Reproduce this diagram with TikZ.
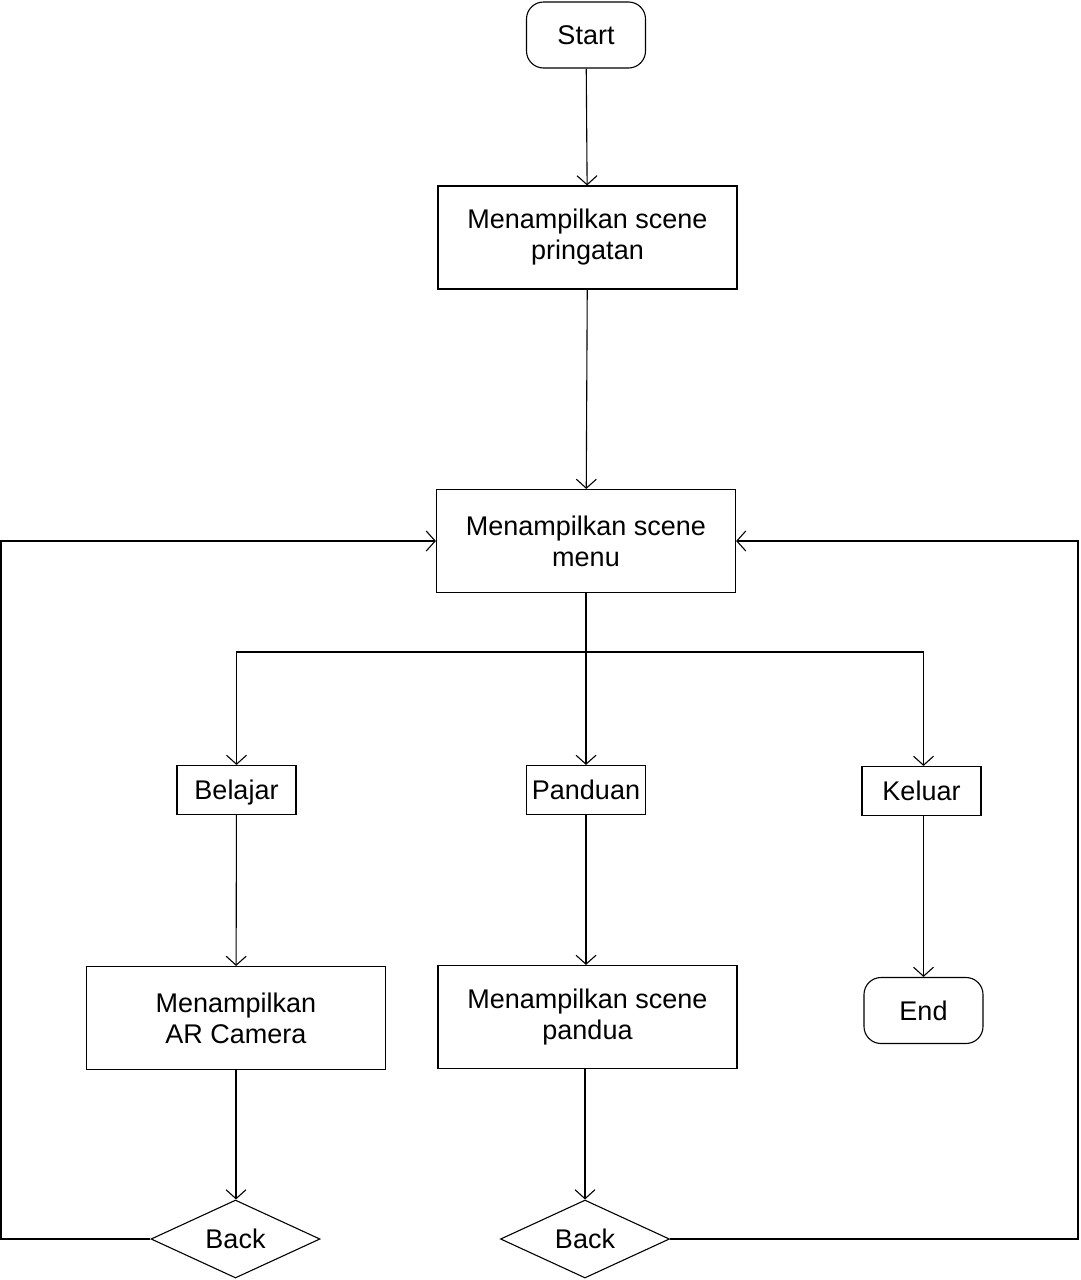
\documentclass[tikz,border=0pt]{standalone}
\usepackage{fontspec}
\setmainfont{Liberation Sans}
\usetikzlibrary{arrows.meta,shapes.geometric}
\begin{document}
\begin{tikzpicture}[x=1pt,y=-1pt,
  line width=1.1pt,
  font=\fontsize{27}{31}\selectfont,
  >={Straight Barb[length=9pt,width=20pt,line width=1.1pt]},
  terminal/.style={draw,rounded corners=17pt,minimum width=119pt,minimum height=66pt,inner sep=0pt,text height=19.5pt,text depth=0pt},
  process/.style={draw,minimum width=299pt,minimum height=103pt,align=center,inner sep=0pt},
  choice/.style={draw,minimum width=119pt,minimum height=49pt,inner sep=0pt,text height=19.5pt,text depth=0pt},
  decision/.style={draw,diamond,aspect=2.17,minimum width=169pt,minimum height=78pt,inner sep=0pt},
  flow/.style={->}]
\useasboundingbox (0,0) rectangle (1080,1280);

\node[terminal] (start) at (586,35) {Start};
\node[process] (greet) at (587.5,237.5) {Menampilkan scene\\pringatan};
\node[process] (menu) at (586,541) {Menampilkan scene\\menu};
\node[choice] (belajar) at (236.5,790) {Belajar};
\node[choice] (panduan) at (586,790) {Panduan};
\node[choice] (keluar) at (921.5,791) {Keluar};
\node[process] (arcam) at (236,1018) {Menampilkan\\AR Camera};
\node[process] (guide) at (587.5,1017) {Menampilkan scene\\pandua};
\node[terminal] (end) at (923.5,1010.5) {End};
\node[decision] (back1) at (235.5,1239) {Back};
\node[decision] (back2) at (585,1239) {Back};

\coordinate (split) at (586,652);
\coordinate (leftrail) at (1,1239);
\coordinate (rightrail) at (1078,1239);

\draw[flow] (start) -- (greet);
\draw[flow] (greet) -- (menu);
\draw (menu) -- (split);
\draw[flow] (split) -| (belajar);
\draw[flow] (split) -- (panduan);
\draw[flow] (split) -| (keluar.north -| end.north);
\draw[flow] (belajar) -- (arcam);
\draw[flow] (panduan) -- (panduan |- guide.north);
\draw[flow] (keluar.south -| end.north) -- (end);
\draw[flow] (arcam) -- (arcam |- back1.north);
\draw[flow] (guide.south -| back2.north) -- (back2);
\draw[flow] (back1.west) -- (leftrail) |- (menu.west);
\draw[flow] (back2.east) -- (rightrail) |- (menu.east);
\end{tikzpicture}
\end{document}
